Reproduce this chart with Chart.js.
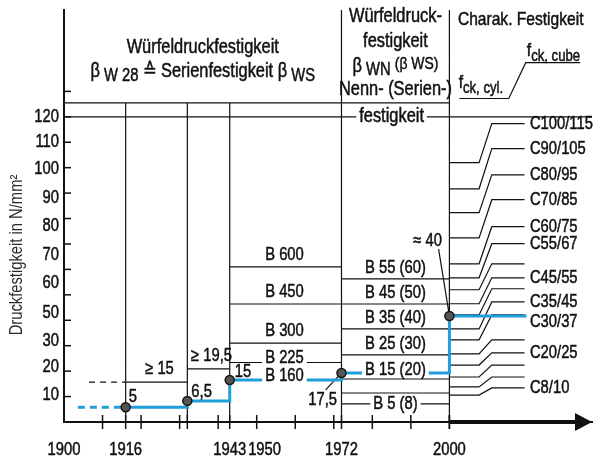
<!DOCTYPE html>
<html>
<head>
<meta charset="utf-8">
<script src="https://cdn.jsdelivr.net/npm/chart.js@4.4.0/dist/chart.umd.min.js"></script>
<style>
  html, body { margin: 0; padding: 0; background: #fff; }
  canvas { display: block; }
</style>
</head>
<body>
<canvas id="chart" width="598" height="461"></canvas>
<script>
// axis labels
const xTickYears = [1900, 1916, 1943, 1950, 1972, 2000];
const xMinorYears = [1910, 1920, 1930, 1940, 1950, 1960, 1970, 1980, 1990, 2000];
const yTickLabels = ['10', '20', '30', '50', '60', '70', '80', '90', '100', '110', '120'];
const yTickAt = [10.5, 21.5, 32, 43, 54.5, 65.5, 77, 88, 99.5, 110, 120];
const yMinorValues = [10, 20, 30, 40, 50, 60, 70, 80, 90, 100, 110, 120, 130];

// column dividers + header lines
const dividerYears = [1916, 1932, 1943, 1972, 2000];
const headerLines = [125.5, 120];

// blue step line (Würfeldruckfestigkeit)
const stepYears  = [1916, 1932, 1932, 1943, 1943, 1972, 1972, 2000, 2000, 2020];
const stepValues = [5.8, 5.8, 8.3, 8.3, 16.5, 16.5, 19.3, 19.3, 41.7, 41.7];
const earlyYears = [1903.6, 1916];
const earlyValues = [5.8, 5.8];
const markYears  = [1916, 1932, 1943, 1972, 2000];
const markValues = [5.8, 8.3, 16.5, 19.3, 41.7];
const markLabels = ['5', '6,5', '15', '17,5', '≈ 40'];
const leaderYears  = [1967.9, 1997.2];   // for marks 3 and 4
const leaderValues = [12.6, 68];

// Serienfestigkeit 1916-1943
const serialNames  = ['≥ 15', '≥ 19,5'];
const serialFrom   = [1916, 1932];
const serialTo     = [1932, 1943];
const serialValues = [15.7, 20.9];
const serialDashFrom = 1906.5;

// 1943 classes
const b1943Names  = ['B 600', 'B 450', 'B 300', 'B 225', 'B 160'];
const b1943Values = [61, 46.4, 31, 23.4, 16.5];

// 1972 classes
const b1972Names  = ['B 55 (60)', 'B 45 (50)', 'B 35 (40)', 'B 25 (30)', 'B 15 (20)', '', 'B 5 (8)'];
const b1972Values = [56.3, 46.4, 36.6, 26.4, 16.9, 11.4, 7.1];

// charakteristische Festigkeit (fck,cyl -> fck,cube)
const cNames = ['C8/10', 'C12/15', 'C16/20', 'C20/25', 'C25/30', 'C30/37', 'C35/45', 'C40/50',
                'C45/55', 'C50/60', 'C55/67', 'C60/75', 'C70/85', 'C80/95', 'C90/105', 'C100/115'];
const cCyl  = [10.6, 13.8, 17.7, 22.4, 26.8, 32.3, 36.6, 42.1, 46.5, 52, 56.7, 62.2, 72.4, 82.3, 91.7, 102];
const cCube = [13.4, 17.7, 22.4, 27.2, 32.3, 42.1, 47.2, 52.4, 56.7, 62.2, 70.1, 76.8, 87.4, 97.2, 107.5, 117.3];
const cLabelled = ['C8/10', 'C20/25', 'C30/37', 'C35/45', 'C45/55', 'C55/67', 'C60/75', 'C70/85', 'C80/95', 'C90/105', 'C100/115'];

const FONT = "'Liberation Sans', Arial, sans-serif";
const SX = 0.82;            // condensed look
const BLUE = '#1f9fd9';
const INK = '#111';

// --- build black segments (null breaks the line)
const segs = [];
function poly(pts) {
  pts.forEach(p => segs.push({ x: p[0], y: p[1] }));
  segs.push({ x: pts[pts.length - 1][0], y: null });
}
dividerYears.forEach((yr, i) => poly([[yr, 0], [yr, i < 3 ? headerLines[0] : 162]]));
poly([[1900, headerLines[0]], [2000, headerLines[0]]]);
poly([[1900, headerLines[1]], [2037, headerLines[1]]]);
serialValues.forEach((v, i) => poly([[serialFrom[i], v], [serialTo[i], v]]));
b1943Values.slice(0, 4).forEach(v => poly([[1943, v], [1972, v]]));
b1972Values.forEach(v => poly([[1972, v], [2000, v]]));
cNames.forEach((n, i) => poly([[2000, cCyl[i]], [2007.7, cCyl[i]], [2011, cCube[i]], [2019.5, cCube[i]]]));
poly([[2002.6, 127.2], [2015.4, 127.2], [2019.8, 141.3], [2033.9, 141.3]]);
leaderYears.forEach((yr, i) => poly([[yr, leaderValues[i]], [markYears[i + 3], markValues[i + 3]]]));

const xy = (xs, ys) => xs.map((x, i) => ({ x: x, y: ys[i] }));

function textWidth(ctx, parts, size) {
  let total = 0;
  parts.forEach(p => { ctx.font = Math.round(size * (p[1] || 1)) + 'px ' + FONT; total += ctx.measureText(p[0]).width * SX; });
  return total;
}

// parts: [text, scale, dy]
function rich(ctx, parts, x, y, size, o) {
  o = o || {};
  ctx.save();
  ctx.textBaseline = 'middle';
  const fontOf = p => Math.round(size * (p[1] || 1)) + 'px ' + FONT;
  const total = textWidth(ctx, parts, size);
  let cx = o.align === 'left' ? x : o.align === 'right' ? x - total : x - total / 2;
  if (o.bg) {
    ctx.fillStyle = '#fff';
    ctx.fillRect(cx - 3, y - size * 0.36, total + 6, size * 0.72);
  }
  ctx.fillStyle = o.color || INK;
  ctx.strokeStyle = o.color || INK;
  ctx.lineWidth = o.thin ? 0 : 0.5;
  parts.forEach(p => {
    ctx.font = fontOf(p);
    ctx.save();
    ctx.translate(cx, y + (p[2] || 0));
    ctx.scale(SX, 1);
    ctx.fillText(p[0], 0, 0);
    if (!o.thin) ctx.strokeText(p[0], 0, 0);
    ctx.restore();
    cx += ctx.measureText(p[0]).width * SX;
  });
  ctx.restore();
}
function label(ctx, s, x, y, o) {
  o = o || {};
  rich(ctx, [[s, 1, 0]], x, y, o.size || 18, o);
}

const decor = {
  id: 'decor',
  afterDatasetsDraw(chart) {
    const { ctx, chartArea: a, scales: { x, y } } = chart;
    const X = v => x.getPixelForValue(v), Y = v => y.getPixelForValue(v);
    const line = (x1, y1, x2, y2) => { ctx.beginPath(); ctx.moveTo(x1, y1); ctx.lineTo(x2, y2); ctx.stroke(); };
    ctx.save();
    ctx.strokeStyle = INK;
    ctx.fillStyle = INK;
    ctx.lineWidth = 1.5;
    yMinorValues.forEach(v => line(a.left, Y(v), a.left + 7, Y(v)));
    xMinorYears.concat(dividerYears).forEach(v => line(X(v), a.bottom - 7, X(v), a.bottom + 7));
    // thick arrow part of the time axis
    ctx.lineWidth = 4;
    line(X(2000), a.bottom, a.right - 14, a.bottom);
    ctx.beginPath();
    ctx.moveTo(a.right, a.bottom);
    ctx.lineTo(a.right - 17, a.bottom - 9);
    ctx.lineTo(a.right - 17, a.bottom + 9);
    ctx.closePath();
    ctx.fill();
    ctx.restore();

    // tick labels at the scale positions (pushed apart where they would touch)
    let prevRight = -Infinity;
    xTickYears.forEach(v => {
      const w = textWidth(ctx, [[String(v), 1, 0]], 18);
      const left = Math.max(X(v) - w / 2, prevRight + 2);
      label(ctx, String(v), left, a.bottom + 28, { align: 'left' });
      prevRight = left + w;
    });
    yTickLabels.forEach((s, i) => label(ctx, s, a.left - 5, Y(yTickAt[i]), { align: 'right' }));

    // y axis title
    ctx.save();
    ctx.translate(17, 255);
    ctx.rotate(-Math.PI / 2);
    label(ctx, 'Druckfestigkeit in N/mm²', 0, 0, { size: 18, color: '#2a2a2a', thin: true });
    ctx.restore();

    // headers
    const colA = (X(1900) + X(1972)) / 2, colB = (X(1972) + X(2000)) / 2, colC = (X(2000) + a.right) / 2;
    const t = a.top;
    label(ctx, 'Würfeldruckfestigkeit', colA, t + 37, { size: 20 });
    rich(ctx, [['β', 1, 0], [' W 28 ', 0.9, 5], ['≙ Serienfestigkeit β', 1, 0], [' WS', 0.9, 5]], colA, t + 61, 20);
    label(ctx, 'Würfeldruck-', colB, t + 6, { size: 20 });
    label(ctx, 'festigkeit', colB, t + 31, { size: 20 });
    rich(ctx, [['β', 1, 0], [' WN ', 0.9, 4], ['(β WS)', 0.85, -2]], colB, t + 56, 20);
    label(ctx, 'Nenn- (Serien-)', colB, t + 79, { size: 20 });
    label(ctx, 'festigkeit', X(1985), Y(headerLines[1]), { size: 20, bg: true });
    label(ctx, 'Charak. Festigkeit', colC, t + 10, { size: 19 });
    rich(ctx, [['f', 1, 0], ['ck, cube', 0.85, 6]], X(2033.9), t + 41, 19, { align: 'right' });
    rich(ctx, [['f', 1, 0], ['ck, cyl.', 0.85, 6]], X(2002.4), t + 73, 19, { align: 'left' });

    // serial strength labels
    serialNames.forEach((n, i) => label(ctx, n, (X(serialFrom[i]) + X(serialTo[i])) / 2 + 3, Y(serialValues[i]) - 13));

    // 1943 classes
    b1943Names.forEach((n, i) => {
      const inline = i >= 3;
      label(ctx, n, X(1952.2), Y(b1943Values[i]) - (inline ? 4 : 12), { align: 'left', bg: inline });
    });
    // 1972 classes
    b1972Names.forEach((n, i) => {
      if (!n) return;
      const inline = i === b1972Names.length - 1;
      label(ctx, n, colB, Y(b1972Values[i]) - (inline ? 0 : (i === 4 ? 9 : 11)), { bg: true });
    });
    // C classes
    cNames.forEach((n, i) => {
      if (cLabelled.indexOf(n) < 0) return;
      label(ctx, n, X(2020.9), Y(cCube[i]) + (n === 'C30/37' ? 7 : 0), { align: 'left' });
    });

    // mark labels
    const off = [[3, -10], [4, -9], [5, -8]];
    markLabels.forEach((s, i) => {
      if (i < 3) label(ctx, s, X(markYears[i]) + off[i][0], Y(markValues[i]) + off[i][1], { align: 'left' });
    });
    label(ctx, markLabels[3], X(leaderYears[0]) - 3, Y(leaderValues[0]) + 10);
    label(ctx, markLabels[4], X(leaderYears[1]) - 11, Y(leaderValues[1]) - 8);
  }
};

const ctx = document.getElementById('chart').getContext('2d');
new Chart(ctx, {
  type: 'scatter',
  data: {
    datasets: [
      {
        data: xy(markYears, markValues),
        pointRadius: 4.5,
        pointBackgroundColor: '#555',
        pointBorderColor: '#111',
        pointBorderWidth: 1.5
      },
      {
        data: xy(stepYears, stepValues),
        showLine: true,
        borderColor: BLUE,
        borderWidth: 3,
        pointRadius: 0
      },
      {
        data: xy(earlyYears, earlyValues),
        showLine: true,
        borderColor: BLUE,
        borderWidth: 3,
        borderDash: [7, 5],
        pointRadius: 0
      },
      {
        data: [{ x: serialDashFrom, y: serialValues[0] }, { x: serialFrom[0], y: serialValues[0] }],
        showLine: true,
        borderColor: INK,
        borderWidth: 1.2,
        borderDash: [6, 5],
        pointRadius: 0
      },
      {
        data: segs,
        showLine: true,
        spanGaps: false,
        borderColor: INK,
        borderWidth: 1.2,
        pointRadius: 0,
        clip: false
      }
    ]
  },
  options: {
    responsive: false,
    animation: false,
    layout: { padding: { top: 10, right: 2, left: 0, bottom: 0 } },
    plugins: { legend: { display: false }, tooltip: { enabled: false } },
    scales: {
      x: {
        type: 'linear',
        min: 1900,
        max: 2037,
        afterFit: s => { s.height = 39; },
        afterBuildTicks: s => { s.ticks = xTickYears.map(v => ({ value: v })); },
        ticks: { display: false },
        grid: { display: false, drawTicks: false },
        border: { display: true, color: INK, width: 2 }
      },
      y: {
        min: 0,
        max: 162,
        afterFit: s => { s.width = 64; },
        afterBuildTicks: s => { s.ticks = yTickAt.map(v => ({ value: v })); },
        ticks: { display: false },
        grid: { display: false, drawTicks: false },
        border: { display: true, color: INK, width: 2 }
      }
    }
  },
  plugins: [decor]
});
</script>
</body>
</html>
